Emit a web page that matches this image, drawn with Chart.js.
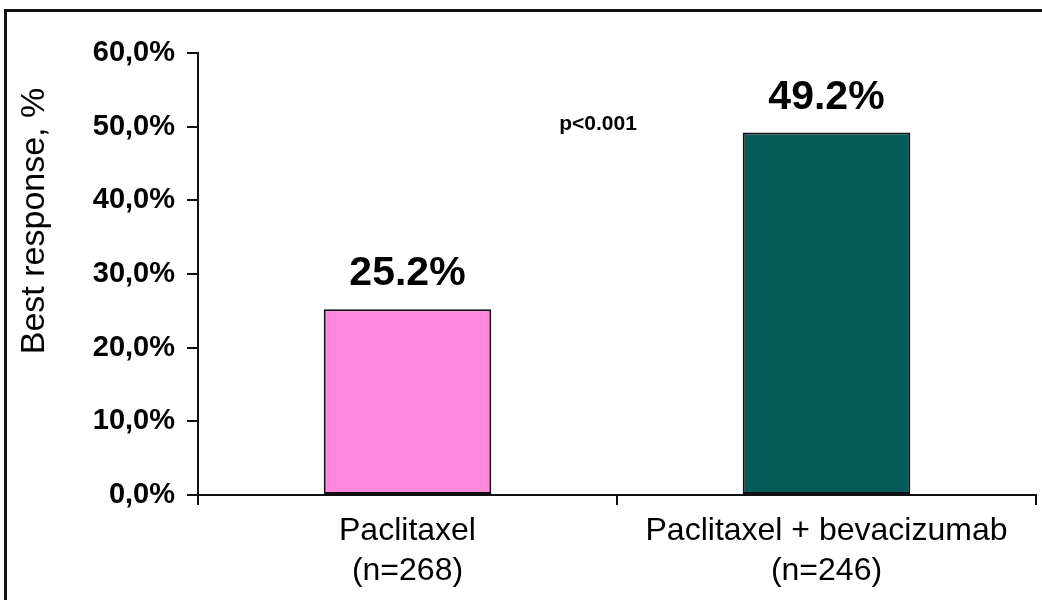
<!DOCTYPE html>
<html>
<head>
<meta charset="utf-8">
<script src="https://cdn.jsdelivr.net/npm/chart.js@4.4.1/dist/chart.umd.min.js"></script>
<style>
  html, body { margin: 0; padding: 0; background: #fff; overflow: hidden; }
  #wrap { position: relative; width: 1042px; height: 600px; }
  #frame {
    position: absolute; left: 4px; top: 9px; width: 1100px; height: 700px;
    border-top: 3px solid #111; border-left: 3px solid #111; pointer-events: none;
  }
  canvas { position: absolute; left: 0; top: 0; }
</style>
</head>
<body>
<div id="wrap">
  <canvas id="chart" width="1042" height="600"></canvas>
  <div id="frame"></div>
</div>
<script>
// Treatment arms and their best overall response rates (%)
const categories = [['Paclitaxel', '(n=268)'], ['Paclitaxel + bevacizumab', '(n=246)']];
const responseRates = [25.2, 49.2];
const barColors = ['#FF88DC', '#035C5A'];
const yTicks = [0, 10, 20, 30, 40, 50, 60];
const axisTitle = 'Best response, %';
const pValueText = 'p<0.001';

const FONT = '"Liberation Sans", Arial, Helvetica, sans-serif';

// Value labels above each bar, plus the p-value note and rotated axis title
const annotations = {
  id: 'annotations',
  afterDatasetsDraw(chart) {
    const ctx = chart.ctx;
    const meta = chart.getDatasetMeta(0);
    ctx.save();
    ctx.fillStyle = '#000';
    ctx.textAlign = 'center';
    ctx.textBaseline = 'alphabetic';
    ctx.font = 'bold 41px ' + FONT;
    meta.data.forEach((bar, i) => {
      ctx.fillText(responseRates[i].toFixed(1) + '%', bar.x, bar.y - 24);
    });

    const xs = chart.scales.x;
    const ys = chart.scales.y;
    ctx.font = 'bold 21px ' + FONT;
    ctx.fillText(pValueText, (xs.left + xs.right) / 2 - 19, ys.getPixelForValue(50) + 3);

    ctx.font = '34px ' + FONT;
    ctx.translate(35, 221);
    ctx.rotate(-Math.PI / 2);
    ctx.textBaseline = 'middle';
    ctx.fillText(axisTitle, 0, 0);
    ctx.restore();
  }
};

new Chart(document.getElementById('chart'), {
  type: 'bar',
  data: {
    labels: categories,
    datasets: [{
      data: responseRates,
      backgroundColor: barColors,
      borderColor: '#111',
      borderWidth: 2,
      borderSkipped: false,
      categoryPercentage: 1.0,
      barPercentage: 0.4
    }]
  },
  options: {
    responsive: false,
    animation: false,
    devicePixelRatio: 1,
    layout: { padding: { top: 53, right: 6, left: 0, bottom: 0 } },
    plugins: { legend: { display: false }, tooltip: { enabled: false }, title: { display: false } },
    scales: {
      y: {
        min: 0,
        max: 60,
        afterFit(scale) { scale.width = 198; },
        afterBuildTicks(scale) { scale.ticks = yTicks.map(v => ({ value: v })); },
        border: { display: true, color: '#111', width: 2 },
        grid: { drawOnChartArea: false, drawTicks: true, tickLength: 11, color: '#111', lineWidth: 2 },
        ticks: {
          color: '#000',
          padding: 12,
          font: { family: FONT, size: 29, weight: 'bold' },
          callback: v => v.toFixed(1).replace('.', ',') + '%'
        }
      },
      x: {
        offset: true,
        afterFit(scale) { scale.height = 105; },
        border: { display: true, color: '#111', width: 2 },
        grid: { offset: true, drawOnChartArea: false, drawTicks: true, tickLength: 10, color: '#111', lineWidth: 2 },
        ticks: {
          color: '#000',
          padding: 6,
          maxRotation: 0,
          autoSkip: false,
          font: { family: FONT, size: 32, lineHeight: '40px' }
        }
      }
    }
  },
  plugins: [annotations]
});
</script>
</body>
</html>
